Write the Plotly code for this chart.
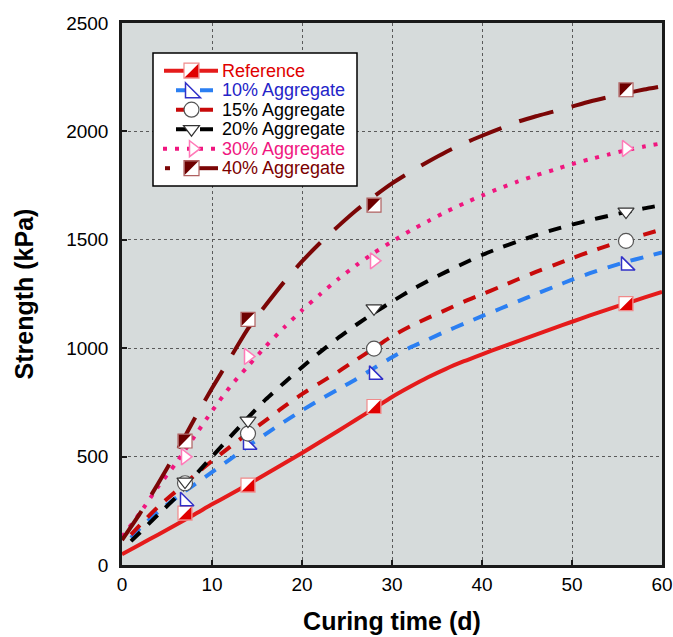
import plotly.graph_objects as go

# ---------------- data ----------------
# sample times along the fitted strength-development curves (days)
curve_t0 = [0, 2, 4, 6, 8, 10, 12, 14, 16, 18, 20, 22, 24, 26, 28, 30,
            32, 34, 36, 38, 40, 42, 44, 46, 48, 50, 52, 54, 56, 58, 60]
curve_t1 = [1, 2, 4, 6, 8, 10, 12, 14, 16, 18, 20, 22, 24, 26, 28, 30,
            32, 34, 36, 38, 40, 42, 44, 46, 48, 50, 52, 54, 56, 58, 60]

ref_curve = [50, 95, 140, 186, 232, 280, 325, 372, 420, 468, 517, 567, 618, 670, 722, 775,
             822, 866, 905, 940, 972, 1003, 1033, 1063, 1093, 1122, 1151, 1179, 1206, 1233, 1260]
agg10_curve = [125, 170, 245, 310, 370, 428, 487, 548, 605, 660, 713, 763, 810, 857, 908, 958,
               1003, 1040, 1078, 1113, 1148, 1182, 1216, 1250, 1283, 1316, 1346, 1373, 1398, 1420, 1442]
agg15_curve = [140, 185, 268, 340, 412, 480, 545, 608, 668, 730, 788, 840, 891, 946, 1000, 1055,
               1100, 1140, 1177, 1215, 1249, 1283, 1318, 1352, 1383, 1415, 1445, 1473, 1500, 1524, 1548]
agg20_curve = [110, 150, 232, 312, 408, 500, 590, 680, 765, 840, 912, 982, 1047, 1107, 1163, 1215,
               1265, 1310, 1352, 1392, 1430, 1463, 1493, 1521, 1547, 1570, 1591, 1610, 1628, 1645, 1660]
agg30_curve = [130, 240, 360, 470, 590, 710, 822, 917, 1010, 1095, 1175, 1248, 1318, 1382, 1440, 1492,
               1541, 1586, 1629, 1668, 1704, 1738, 1769, 1797, 1823, 1849, 1872, 1893, 1913, 1930, 1945]
agg40_curve = [115, 238, 375, 518, 670, 815, 953, 1090, 1200, 1305, 1400, 1485, 1562, 1635, 1700, 1760,
               1812, 1860, 1905, 1945, 1980, 2013, 2045, 2070, 2092, 2115, 2138, 2158, 2176, 2193, 2208]

# measured points
marker_t = [7, 14, 28, 56]
ref_pts = [239, 368, 731, 1206]
agg10_pts = [294, 555, 877, 1381]
agg15_pts = [377, 606, 998, 1495]
agg20_pts = [385, 666, 1184, 1630]
agg30_pts = [499, 962, 1403, 1921]
agg40_pts = [572, 1133, 1660, 2192]

names = ["Reference", "10% Aggregate", "15% Aggregate", "20% Aggregate", "30% Aggregate", "40% Aggregate"]
x_ticks = [0, 10, 20, 30, 40, 50, 60]
y_ticks = [0, 500, 1000, 1500, 2000, 2500]

# ---------------- styles ----------------
FONT = "Liberation Sans, Arial, sans-serif"
c_ref, c10, c15, c20, c30, c40 = "#e51b1b", "#2b7ff2", "#c80a0a", "#000000", "#f0167f", "#7b0606"
LW = 4

series = [
    dict(name=names[0], t=curve_t0, y=ref_curve, color=c_ref, dash="solid"),
    dict(name=names[1], t=curve_t1, y=agg10_curve, color=c10, dash="13px,11px"),
    dict(name=names[2], t=curve_t1, y=agg15_curve, color=c15, dash="13px,11px"),
    dict(name=names[3], t=curve_t1, y=agg20_curve, color=c20, dash="13px,11px"),
    dict(name=names[4], t=curve_t0, y=agg30_curve, color=c30, dash="4px,8px"),
    dict(name=names[5], t=curve_t0, y=agg40_curve, color=c40, dash="35px,19px"),
]

fig = go.Figure()

for s in series:
    fig.add_trace(go.Scatter(x=s["t"], y=s["y"], mode="lines", name=s["name"],
                             line=dict(color=s["color"], width=LW, dash=s["dash"],
                                       shape="spline", smoothing=0.6),
                             showlegend=False, hoverinfo="skip"))

MS = 15
marker_specs = [
    (ref_pts, dict(symbol="square", size=MS - 1, color="white", line=dict(color="#f08a8a", width=1.2))),
    (agg10_pts, dict(symbol="triangle-sw", size=15, color="white", line=dict(color="#3030c8", width=1.5))),
    (agg15_pts, dict(symbol="circle", size=MS, color="white", line=dict(color="#555555", width=1.2))),
    (agg20_pts, dict(symbol="triangle-down", size=MS - 1, color="white", line=dict(color="#333333", width=1.2))),
    (agg30_pts, dict(symbol="triangle-right", size=MS - 1, color="white", line=dict(color="#ff7ab8", width=1.5))),
    (agg40_pts, dict(symbol="square", size=MS - 1, color="white", line=dict(color="#b06060", width=1.2))),
]
for (pts, mk), s in zip(marker_specs, series):
    fig.add_trace(go.Scatter(x=marker_t, y=pts, mode="markers", name=s["name"] + " (measured)",
                             marker=mk, showlegend=False))

shapes = []


def half_square(xref, yref, x, y, color, corner, h):
    # pixel-sized triangle anchored at (x, y); +y points up
    if corner == "lr":
        path = f"M{-h},{-h} L{h},{-h} L{h},{h} Z"
    else:
        path = f"M{-h},{-h} L{-h},{h} L{h},{h} Z"
    return dict(type="path", xref=xref, yref=yref, xsizemode="pixel", ysizemode="pixel",
                xanchor=x, yanchor=y, path=path, fillcolor=color, line=dict(width=0), layer="above")


H = (MS - 1) / 2 - 0.6
for t, v in zip(marker_t, ref_pts):
    shapes.append(half_square("x", "y", t, v, "#e00000", "lr", H))
for t, v in zip(marker_t, agg40_pts):
    shapes.append(half_square("x", "y", t, v, "#6e0000", "ul", H))

# ---------------- page geometry ----------------
FIG_W, FIG_H = 673, 637
PL, PT, PW, PH = 122, 23, 540, 542          # plot area in pixels


def px(xp):
    return (xp - PL) / PW


def py(yp):
    return (PT + PH - yp) / PH


# ---------------- legend box (drawn by hand to match the original) ----------------
shapes.append(dict(type="rect", xref="paper", yref="paper", x0=px(153), x1=px(357), y0=py(186), y1=py(53),
                   fillcolor="white", line=dict(color="black", width=1.5), layer="above"))
rows = [70.7, 90.2, 109.7, 129.2, 148.7, 168.2]
seg = [(164, 218), (176, 215), (176, 215), (176, 214), (163, 218), (196, 218)]
for i, s in enumerate(series):
    yr = py(rows[i])
    shapes.append(dict(type="line", xref="paper", yref="paper", x0=px(seg[i][0]), x1=px(seg[i][1]),
                       y0=yr, y1=yr, line=dict(color=s["color"], width=LW, dash=s["dash"]), layer="above"))
# little leading dash of the 40% sample
shapes.append(dict(type="line", xref="paper", yref="paper", x0=px(165), x1=px(170), y0=py(rows[5]), y1=py(rows[5]),
                   line=dict(color=c40, width=LW), layer="above"))

lx = px(191.5)
h = 7.5


def pix_path(xc, yc, path, fill, lc, lw=1.2):
    return dict(type="path", xref="paper", yref="paper", xsizemode="pixel", ysizemode="pixel",
                xanchor=xc, yanchor=yc, path=path, fillcolor=fill, line=dict(color=lc, width=lw), layer="above")


sq = f"M{-h},{-h} L{h},{-h} L{h},{h} L{-h},{h} Z"
# Reference
shapes.append(pix_path(lx, py(rows[0]), sq, "white", "#f08a8a"))
shapes.append(half_square("paper", "paper", lx, py(rows[0]), "#e00000", "lr", h - 0.6))
# 10%
shapes.append(pix_path(px(193), py(rows[1]), f"M{-h},{-h} L{-h},{h} L{h},{-h} Z", "white", "#3030c8", 1.5))
# 15%
shapes.append(dict(type="circle", xref="paper", yref="paper", xsizemode="pixel", ysizemode="pixel",
                   xanchor=lx, yanchor=py(rows[2]), x0=-7.5, x1=7.5, y0=-7.5, y1=7.5,
                   fillcolor="white", line=dict(color="#555555", width=1.2), layer="above"))
# 20%
shapes.append(pix_path(lx, py(rows[3]), "M-8,3.5 L8,3.5 L0,-7 Z", "white", "#333333"))
# 30%
shapes.append(pix_path(px(193), py(rows[4]), "M-3.5,8 L-3.5,-8 L7,0 Z", "white", "#ff7ab8", 1.5))
# 40%
shapes.append(pix_path(lx, py(rows[5]), sq, "white", "#b06060"))
shapes.append(half_square("paper", "paper", lx, py(rows[5]), "#6e0000", "ul", h - 0.6))

text_colors = ["#e00000", "#2424c8", "#000000", "#000000", "#f0167f", "#7b0000"]
annotations = []
for i, nm in enumerate(names):
    annotations.append(dict(xref="paper", yref="paper", x=px(220), y=py(rows[i]), xanchor="left", yanchor="middle",
                            text=nm, showarrow=False, font=dict(family=FONT, size=18, color=text_colors[i])))

fig.update_layout(
    width=FIG_W, height=FIG_H,
    margin=dict(l=PL, r=FIG_W - PL - PW, t=PT, b=FIG_H - PT - PH),
    paper_bgcolor="white", plot_bgcolor="#d6dbdb",
    font=dict(family=FONT, color="black"),
    shapes=shapes, annotations=annotations, showlegend=False,
    xaxis=dict(range=[0, 60], tickvals=x_ticks, ticktext=[str(v) for v in x_ticks], automargin=False,
               showgrid=True, gridcolor="#5a5a5a", griddash="dot", gridwidth=1,
               showline=True, linecolor="#1a1a1a", linewidth=2.5, mirror=True,
               ticks="inside", ticklen=5, tickwidth=1.5, tickcolor="#1a1a1a",
               tickfont=dict(family=FONT, size=19), ticklabelstandoff=0, ticklabeloverflow="allow",
               zeroline=False,
               title=dict(text="Curing time (d)", font=dict(family=FONT, size=25, weight="bold"), standoff=19)),
    yaxis=dict(range=[0, 2500], tickvals=y_ticks, ticktext=[str(v) for v in y_ticks], automargin=False,
               showgrid=True, gridcolor="#5a5a5a", griddash="dot", gridwidth=1,
               showline=True, linecolor="#1a1a1a", linewidth=2.5, mirror=True,
               ticks="inside", ticklen=5, tickwidth=1.5, tickcolor="#1a1a1a",
               tickfont=dict(family=FONT, size=19), ticklabelstandoff=7, ticklabeloverflow="allow",
               zeroline=False,
               title=dict(text="Strength (kPa)", font=dict(family=FONT, size=25, weight="bold"), standoff=26)),
)

# remove the browser's default 8 px page margin so the figure fills the window exactly
fig.write_html("out.html", config={"displayModeBar": False},
               post_script="document.body.style.margin='0';document.body.style.overflow='hidden';")
